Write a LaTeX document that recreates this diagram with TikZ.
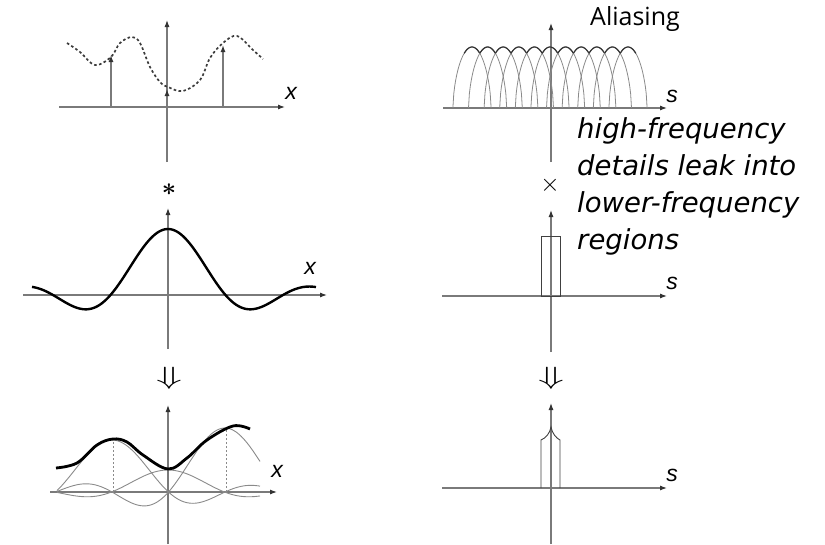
\documentclass[tikz,border=0pt]{standalone}
\usepackage{fontspec}
\setmainfont{DejaVu Sans}
\newfontfamily\varfont{Liberation Sans}
\newfontfamily\titlefont{Open Sans}
\usepackage{graphicx}
\usepackage{xcolor}
\usepackage{tikz}
\usetikzlibrary{arrows.meta}
\definecolor{axisgray}{HTML}{7A7A7A}
\definecolor{curvegray}{HTML}{8A8A8A}
\definecolor{dashgray}{HTML}{3C3C3C}

\tikzset{
  axis/.style={draw=axisgray, line width=1.1pt, -{Latex[length=7pt,width=5pt,color=black!80]}},
  sample/.style={draw=axisgray, line width=1.3pt, -{Latex[length=7pt,width=5pt,color=black!80]}},
  varlabel/.style={font=\varfont\itshape\fontsize{23}{23}\selectfont, inner sep=0pt},
  opsymbol/.style={inner sep=0pt, font=\fontsize{27}{27}\selectfont},
  thinsinc/.style={draw=curvegray, line width=0.9pt},
}

\begin{document}
\begin{tikzpicture}[x=1pt, y=-1pt,
    declare function={snc(\t)=sin(180*(\t+0.00013))/(pi*(\t+0.00013));
                      bump(\t)=61*(max(1-(\t)*(\t)/364.8, 0.00001))^0.6;}]
  \useasboundingbox (0,0) rectangle (825,544);

  % ---- spatial domain, top: sampled signal
  \coordinate (tlleft) at (59,107);
  \coordinate (tlright) at (285,107);
  \coordinate (tlbottom) at (167,162);
  \coordinate (tltop) at (167,20);
  \draw[axis] (tlleft) -- (tlright);
  \draw[axis] (tlbottom) -- (tltop);
  \node[varlabel] (tlx) at (291,93) {x};
  \draw[dashgray, line width=1.7pt, dash pattern=on 2.6pt off 2.4pt]
    plot[smooth, tension=0.6] coordinates {(67,43) (80,52) (95,65) (111,57) (120,43)
      (132,37) (140,43) (150,67) (160,82) (168,87) (183,91) (200,80) (210,58)
      (223,43) (237,36) (253,50) (263,59)};
  \foreach \sx/\sy [count=\i] in {111/55, 167/89, 223/45}{
    \coordinate (s\i) at (\sx,107);
    \coordinate (s\i top) at (\sx,\sy);
    \draw[sample] (s\i) -- (s\i top);
  }

  \node[opsymbol, font=\fontsize{38}{38}\selectfont\boldmath] (conv) at (169,190) {$\ast$};

  % ---- spatial domain, middle: sinc filter
  \coordinate (mlleft) at (23,295);
  \coordinate (mlright) at (327,295);
  \coordinate (mlbottom) at (168,349);
  \coordinate (mltop) at (168,208);
  \draw[axis] (mlleft) -- (mlright);
  \draw[axis] (mlbottom) -- (mltop);
  \node[varlabel] (mlx) at (310,268) {x};
  \draw[line width=2.4pt]
    plot[domain=32:316, samples=140] (\x, {295-66*snc((\x-168)/57.5)});

  \node[opsymbol] (blarrow) at (169,378) {\scalebox{1.7}[1]{$\Downarrow$}};

  % ---- spatial domain, bottom: reconstruction
  \coordinate (blleft) at (50,492);
  \coordinate (blright) at (277,492);
  \coordinate (blbottom) at (168,544);
  \coordinate (bltop) at (168,405);
  \draw[axis] (blleft) -- (blright);
  \draw[axis] (blbottom) -- (bltop);
  \node[varlabel] (blx) at (277,471) {x};
  \foreach \c/\a in {112/52, 168/22, 225/64}{
    \draw[thinsinc] plot[domain=57:260, samples=110] (\x, {492-\a*snc((\x-\c)/56.5)});
  }
  \coordinate (d1) at (113,492);
  \coordinate (d1top) at (113,441);
  \coordinate (d2) at (226,492);
  \coordinate (d2top) at (226,429);
  \draw[curvegray, line width=0.9pt, dash pattern=on 2pt off 2pt] (d1) -- (d1top);
  \draw[curvegray, line width=0.9pt, dash pattern=on 2pt off 2pt] (d2) -- (d2top);
  \draw[line width=2.8pt]
    plot[smooth, tension=0.6] coordinates {(56,468) (77,463) (97,445) (113,439)
      (127,442) (143,455) (168,469) (187,458) (207,440) (233,426) (250,429)};

  % ---- frequency domain, top: overlapping spectra
  \node[font=\titlefont\fontsize{25}{25}\selectfont, inner sep=0pt] (alias) at (635,19) {Aliasing};
  \coordinate (trleft) at (443,108);
  \coordinate (trright) at (667,108);
  \coordinate (trbottom) at (551,162);
  \coordinate (trtop) at (551,23);
  \draw[axis] (trleft) -- (trright);
  \draw[axis] (trbottom) -- (trtop);
  \node[varlabel] (trs) at (672,96) {s};
  \foreach \k in {0,...,10}{
    \pgfmathsetmacro\c{472+15.6*\k}
    \pgfmathsetmacro\lo{\c-19.1}
    \pgfmathsetmacro\hi{\c+19.1}
    \pgfmathsetmacro\elo{\c-7.8}
    \pgfmathsetmacro\ehi{\c+7.8}
    \draw[curvegray, line width=0.8pt]
      plot[domain=\lo:\hi, samples=45] (\x, {108-bump(\x-\c)});
    \draw[black!80, line width=1.2pt]
      plot[domain=\elo:\ehi, samples=15] (\x, {108-bump(\x-\c)});
  }

  \node[anchor=base west, align=left, inner sep=0pt,
        font=\itshape\fontsize{27.5}{37}\selectfont] (leak) at (577,249)
    {high-frequency\\details leak into\\lower-frequency\\regions};

  \node[opsymbol, font=\fontsize{24}{24}\selectfont] (mult) at (550,185) {$\times$};

  % ---- frequency domain, middle: box filter
  \coordinate (mrleft) at (442,296);
  \coordinate (mrright) at (667,296);
  \coordinate (mrbottom) at (551,352);
  \coordinate (mrtop) at (551,210);
  \draw[axis] (mrleft) -- (mrright);
  \draw[axis] (mrbottom) -- (mrtop);
  \node[varlabel] (mrs) at (672,283) {s};
  \draw[black!75, line width=0.9pt] (541,296) rectangle (560,236);

  \node[opsymbol] (brarrow) at (551,378) {\scalebox{1.7}[1]{$\Downarrow$}};

  % ---- frequency domain, bottom: filtered spectrum
  \coordinate (brleft) at (442,488);
  \coordinate (brright) at (667,488);
  \coordinate (brbottom) at (551,544);
  \coordinate (brtop) at (551,403);
  \draw[axis] (brleft) -- (brright);
  \draw[axis] (brbottom) -- (brtop);
  \node[varlabel] (brs) at (672,475) {s};
  \draw[black!75, line width=0.9pt]
    (541,488) -- (541,440) .. controls (546,438) and (550,433) .. (551,427)
    .. controls (552,433) and (556,438) .. (560,440) -- (560,488);
\end{tikzpicture}
\end{document}
